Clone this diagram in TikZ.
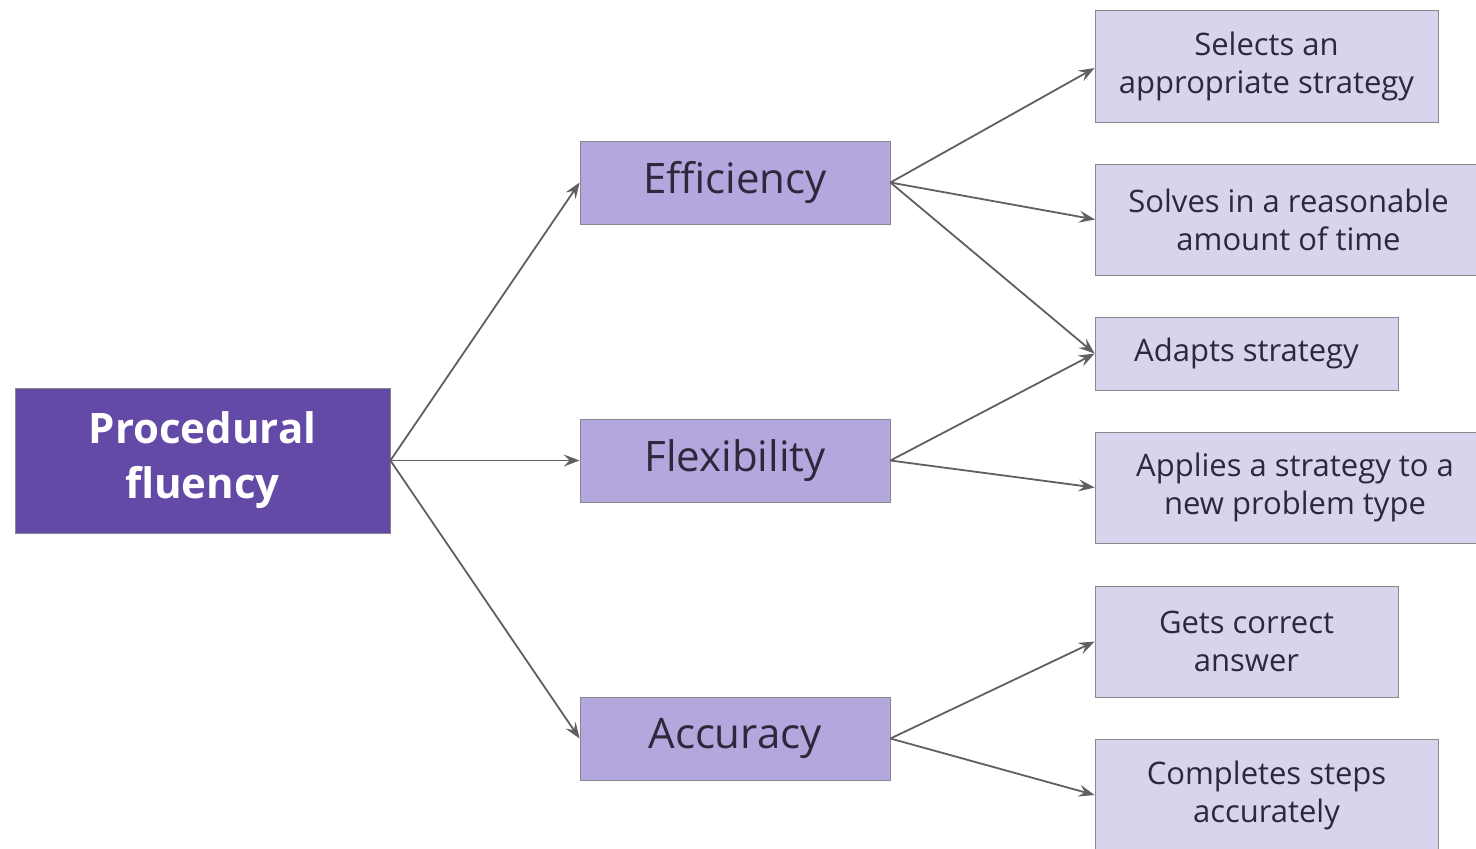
\documentclass[tikz,border=0pt]{standalone}
\usepackage{fontspec}
\setmainfont{Open Sans}
\usepackage{xcolor}
\usetikzlibrary{arrows.meta}
\definecolor{darkpurple}{RGB}{99,74,166}
\definecolor{midpurple}{RGB}{180,167,222}
\definecolor{lightpurple}{RGB}{217,211,237}
\definecolor{boxline}{RGB}{135,135,140}
\definecolor{arrowgray}{RGB}{95,95,100}
\definecolor{inktext}{RGB}{45,40,60}
\tikzset{
  rootbox/.style={fill=darkpurple, draw=boxline, text=white, align=center,
    font=\fontsize{21}{27.5}\selectfont\bfseries, inner sep=0pt},
  skillbox/.style={fill=midpurple, draw=boxline, text=inktext, align=center,
    font=\fontsize{21}{26}\selectfont, minimum width=155pt, minimum height=41.5pt, inner sep=0pt},
  leafbox/.style={fill=lightpurple, draw=boxline, text=inktext, align=center,
    font=\fontsize{15.5}{19}\selectfont, inner sep=0pt},
  link/.style={draw=arrowgray, line width=0.9pt, -{Stealth[length=8pt,width=6pt,inset=3pt]}}
}
\begin{document}
\begin{tikzpicture}[x=0.5pt,y=-0.5pt]
\useasboundingbox (0,0) rectangle (1476,848);
\clip (0,0) rectangle (1476,848);
% root
\node[rootbox, minimum width=187.5pt, minimum height=72.5pt] (fluency) at (202.5,460.5) {Procedural\\fluency};
% three strands
\node[skillbox] (efficiency) at (735,182.5) {Efficiency};
\node[skillbox] (flexibility) at (735,460.5) {Flexibility};
\node[skillbox] (accuracy) at (735,738.5) {Accuracy};
% what each strand looks like
\node[leafbox, minimum width=171.5pt, minimum height=56pt] (selects) at (1266.5,66) {Selects an\\appropriate strategy};
\node[leafbox, minimum width=193pt, minimum height=55.5pt] (solves) at (1288.5,219.5) {Solves in a reasonable\\amount of time};
\node[leafbox, minimum width=151.5pt, minimum height=36.5pt] (adapts) at (1246.5,353.5) {Adapts strategy};
\node[leafbox, minimum width=200pt, minimum height=55.5pt] (applies) at (1295,487.5) {Applies a strategy to a\\new problem type};
\node[leafbox, minimum width=151.5pt, minimum height=55.5pt] (gets) at (1246.5,641.5) {Gets correct\\answer};
\node[leafbox, minimum width=171.5pt, minimum height=56pt] (completes) at (1266.5,795) {Completes steps\\accurately};
% connectors
\draw[link] (fluency.east) -- (efficiency.west);
\draw[link] (fluency.east) -- (flexibility.west);
\draw[link] (fluency.east) -- (accuracy.west);
\draw[link] (efficiency.east) -- ([yshift=-1pt]selects.west);
\draw[link] (efficiency.east) -- (solves.west);
\draw[link] (efficiency.east) -- (adapts.west);
\draw[link] (flexibility.east) -- (adapts.west);
\draw[link] (flexibility.east) -- (applies.west);
\draw[link] (accuracy.east) -- (gets.west);
\draw[link] (accuracy.east) -- (completes.west);
\end{tikzpicture}
\end{document}
